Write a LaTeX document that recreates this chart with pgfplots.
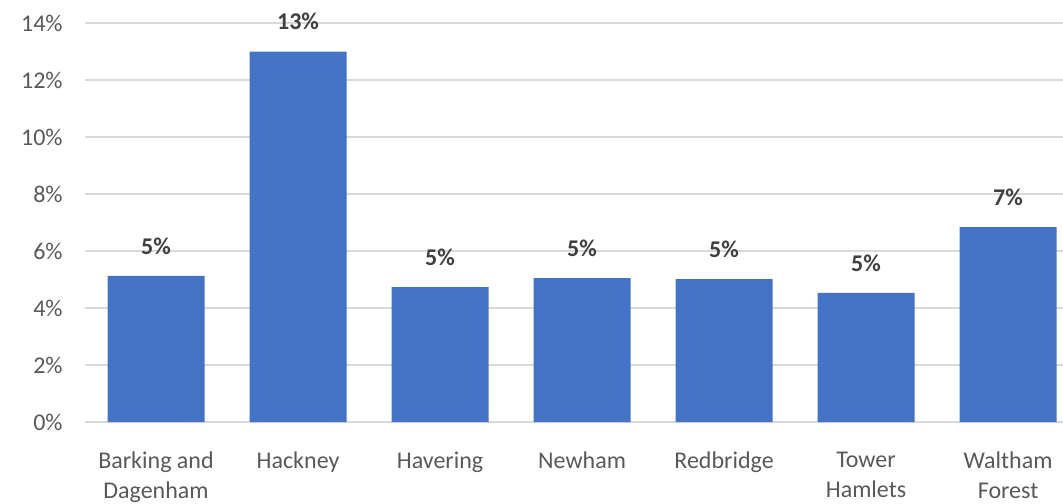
\documentclass[border=0pt]{standalone}
\usepackage{fontspec}
\setmainfont{Carlito}
\usepackage{pgfplots}
\pgfplotsset{compat=1.18}
\definecolor{barblue}{HTML}{4472C4}
\definecolor{gridgray}{HTML}{D9D9D9}
\definecolor{ticktext}{HTML}{595959}
\definecolor{labeltext}{HTML}{404040}

\begin{document}
\begin{tikzpicture}
\begin{axis}[
  at={(0,0)}, anchor=south west,
  scale only axis, width=489pt, height=199.5pt,
  xmin=-0.5, xmax=6.387, ymin=0, ymax=14,
  ybar, bar width=48.5pt,
  xtick={0,...,6},
  xticklabels={{Barking and\\Dagenham},Hackney,Havering,Newham,Redbridge,{Tower\\Hamlets},{Waltham\\Forest}},
  ytick={0,2,...,14},
  yticklabel={\pgfmathprintnumber{\tick}\%},
  /pgf/number format/assume math mode=true,
  ymajorgrids, grid style={gridgray, line width=0.75pt},
  tick style={draw=none},
  axis line style={draw=none},
  ticklabel style={font=\fontsize{12}{15}\selectfont, text=ticktext},
  xticklabel style={align=center, inner sep=0pt, yshift=-10.5pt},
  yticklabel style={inner sep=0pt, xshift=-11pt},
  point meta=y,
  nodes near coords={\pgfmathprintnumber[fixed,precision=0]{\pgfplotspointmeta}\%},
  every node near coord/.append style={font=\bfseries\fontsize{12}{15}\selectfont, text=labeltext, inner sep=0pt, yshift=10.5pt},
]
\addplot[fill=barblue, draw=none] coordinates {
  (0,5.13) (1,13.0) (2,4.73) (3,5.05) (4,5.01) (5,4.53) (6,6.84)
};
\end{axis}
\pgfresetboundingbox
\useasboundingbox (-42.5pt,-40.5pt) rectangle (489pt,211pt);
\end{tikzpicture}
\end{document}
